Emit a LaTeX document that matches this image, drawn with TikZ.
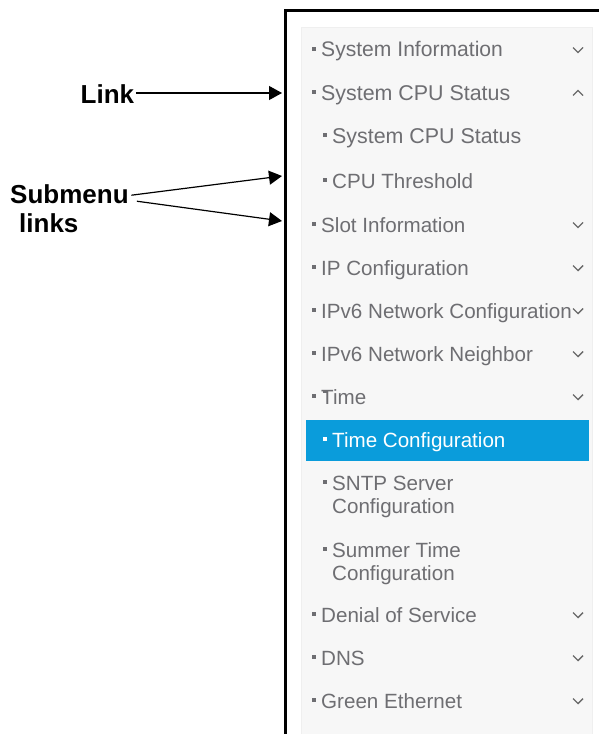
\documentclass[tikz,border=0pt]{standalone}
\usepackage{fontspec}
\setmainfont{Liberation Sans}
\usetikzlibrary{arrows.meta}
\definecolor{menutext}{HTML}{6E6E72}
\definecolor{panelfill}{HTML}{F7F7F7}
\definecolor{paneledge}{HTML}{EFEFEF}
\definecolor{hilite}{HTML}{0A9CDB}
\definecolor{chev}{HTML}{6A6A6A}
\tikzset{
  x=1pt,y=-1pt,
  item/.style={anchor=base west,inner sep=0pt,text=menutext,font=\fontsize{20.6}{22}\selectfont},
  callout/.style={anchor=base west,inner sep=0pt,font=\fontsize{26}{30}\selectfont\bfseries},
  pointer/.style={line width=1.2pt,-{Triangle[length=13pt,width=14pt]}},
  chevron/.style={draw=chev,line width=1.4pt}
}
\newcommand{\menuitem}[4][menutext]{% colour, x of text, baseline, text
  \fill[#1] ({#2-9.5},{#3-10}) rectangle ({#2-5.5},{#3-6});
  \node[item,text=#1] at (#2,#3) {#4};}
\newcommand{\chevdown}[1]{\draw[chevron] (573,{#1-2.5}) -- (578,{#1+2.5}) -- (583,{#1-2.5});}
\newcommand{\chevup}[1]{\draw[chevron] (573,{#1+2.5}) -- (578,{#1-2.5}) -- (583,{#1+2.5});}
\newcommand{\widertext}{\fontsize{21.4}{22}\selectfont}
\begin{document}
\begin{tikzpicture}
\useasboundingbox (0,0) rectangle (598,734);
\fill[white] (0,0) rectangle (598,734);
% panel and frame
\fill[panelfill,draw=paneledge,line width=.8pt] (301.5,27.5) rectangle (592.5,740);
\draw[line width=3pt] (285.5,740) -- (285.5,10.5) -- (604,10.5);
\fill[hilite] (306,420) rectangle (589,461);
% items
\menuitem{321}{56.5}{{\fontsize{21.1}{22}\selectfont System Information}} \chevdown{50}
\menuitem{321}{100}{{\widertext System CPU Status}} \chevup{93}
\menuitem{332}{143}{{\widertext System CPU Status}}
\menuitem{332}{188}{CPU Threshold}
\menuitem{321}{232}{Slot Information} \chevdown{225}
\menuitem{321}{275}{IP Configuration} \chevdown{268}
\menuitem{321}{318}{IPv6 Network Configuration} \chevdown{311}
\menuitem{321}{361}{IPv6 Network Neighbor} \chevdown{354}
\menuitem{321}{404}{Time} \chevdown{397}
\fill[menutext] (323,390) rectangle (327,393);
\menuitem[white]{332}{447}{Time Configuration}
\menuitem{332}{490}{SNTP Server}
\node[item] at (332,513) {Configuration};
\menuitem{332}{557}{Summer Time}
\node[item] at (332,580) {Configuration};
\menuitem{321}{622}{Denial of Service} \chevdown{615}
\menuitem{321}{665}{DNS} \chevdown{658}
\menuitem{321}{708}{Green Ethernet} \chevdown{701}
% callouts
\node[callout] (link) at (80.5,103) {Link};
\node[callout] (sub) at (10,203) {Submenu};
\node[callout] (links) at (19,232) {links};
\coordinate (t1) at (282,93);
\coordinate (t2) at (282,176);
\coordinate (t3) at (282,221);
\draw[pointer] ([xshift=1.5pt]link.east |- t1) -- (t1);
\draw[pointer] ([xshift=2.5pt,yshift=-1.5pt]sub.east) -- (t2);
\draw[pointer] ([xshift=8pt,yshift=-7.5pt]sub.east) -- (t3);
\end{tikzpicture}
\end{document}
